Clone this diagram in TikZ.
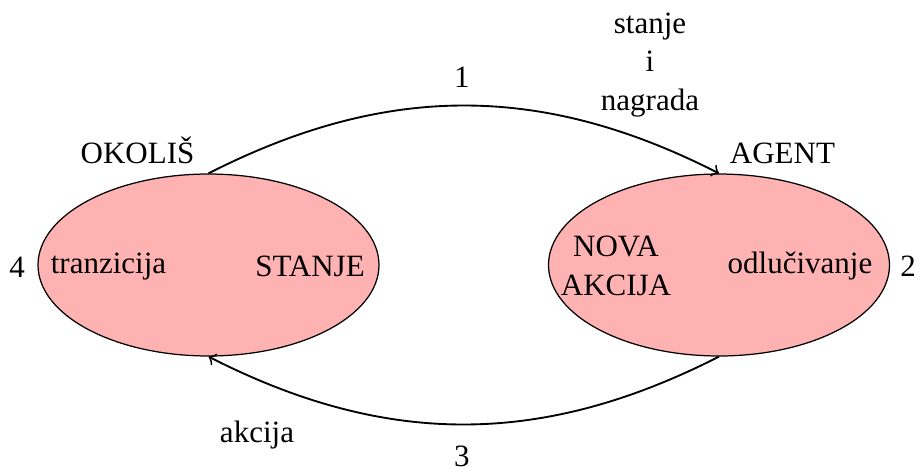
\documentclass[tikz,border=0pt]{standalone}
\usepackage{fontspec}
\setmainfont{Liberation Serif}
\usetikzlibrary{shapes.geometric}
\begin{document}
\begin{tikzpicture}[x=0.32258pt, y=0.32258pt,
  blob/.style={ellipse, draw=black, line width=0.4pt, fill=red!30,
    minimum width=110pt, minimum height=58.7pt, inner sep=0pt},
  lbl/.style={anchor=base, inner sep=0pt, font=\fontsize{10}{12.3}\selectfont},
  flow/.style={->, semithick}]
\useasboundingbox (0,0) rectangle (917,468);
\node[blob] (env) at (208.5,203) {};
\node[blob] (agent) at (719,203) {};
\node[lbl] (envname) at (137.5,305) {OKOLIŠ};
\node[lbl] (agentname) at (782.5,305) {AGENT};
\node[lbl] (four) at (17,191) {4};
\node[lbl] (trans) at (108.5,195) {tranzicija};
\node[lbl] (state) at (310,192) {STANJE};
\node[lbl, align=center] (newact) at (616,173) {NOVA\\AKCIJA};
\node[lbl] (decide) at (800,195) {odlučivanje};
\node[lbl] (two) at (908,192) {2};
\node[lbl] (one) at (462,381) {1};
\node[lbl, align=center] (obs) at (650,358) {stanje\\i\\nagrada};
\node[lbl] (act) at (257,26) {akcija};
\node[lbl] (three) at (462,2) {3};
\draw[flow] (env.north) to[bend left=27] (agent.north);
\draw[flow] (agent.south) to[bend left=27] (env.south);
\end{tikzpicture}
\end{document}
